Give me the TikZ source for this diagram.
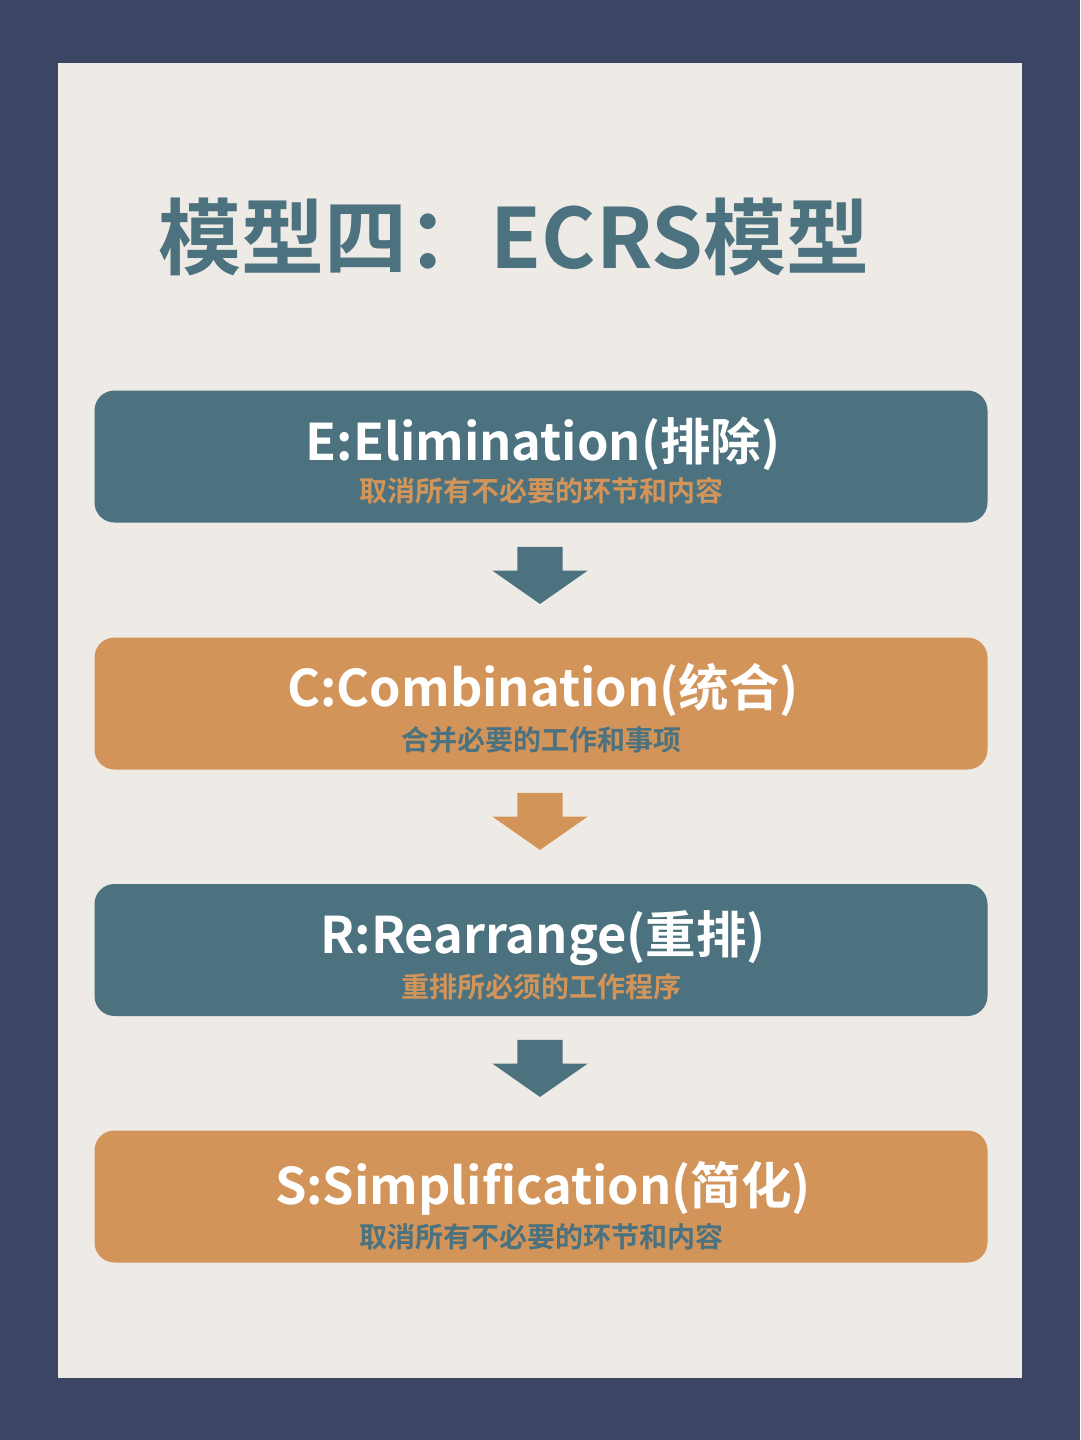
\documentclass[tikz,border=0pt]{standalone}
\usepackage{fontspec}
\setmainfont{Noto Sans CJK SC}[BoldFont={Noto Sans CJK SC Bold}]
\usetikzlibrary{shapes.arrows}
\definecolor{ecrsnavy}{HTML}{3D4564}
\definecolor{ecrspaper}{HTML}{EEEAE5}
\definecolor{ecrsteal}{HTML}{4B727E}
\definecolor{ecrsorange}{HTML}{D3945A}
\begin{document}
\begin{tikzpicture}
[
    x=1pt, y=-1pt,
    stepbox/.style={rounded corners=20pt, minimum width=893pt, minimum height=132pt, inner sep=0pt},
    headtext/.style={anchor=base, text=white, font=\bfseries\fontsize{50.5}{54}\selectfont},
    subtext/.style={anchor=base, font=\bfseries\fontsize{28}{31}\selectfont},
    downarrow/.style={shape=single arrow, rotate=-90, minimum height=57pt, minimum width=0pt,
        inner xsep=0pt, inner ysep=22.5pt, single arrow head extend=25pt, single arrow tip angle=110},
]
% background and panel
\fill[ecrsnavy] (0,0) rectangle (1080,1440);
\fill[ecrspaper] (58,63) rectangle (1022,1378);

% title
\node[text=ecrsteal, font=\bfseries\fontsize{83}{88}\selectfont] (title) at (514,237) {模型四：ECRS模型};

% E
\node[stepbox, fill=ecrsteal] (E) at (541,456.5) {};
\node[headtext] (Ehead) at (543,460) {E:Elimination(排除)};
\node[subtext, text=ecrsorange] (Esub) at (541,501) {取消所有不必要的环节和内容};

% C
\node[stepbox, fill=ecrsorange] (C) at (541,703.5) {};
\node[headtext] (Chead) at (543,706) {C:Combination(统合)};
\node[subtext, text=ecrsteal] (Csub) at (541,750) {合并必要的工作和事项};

% R
\node[stepbox, fill=ecrsteal] (R) at (541,950) {};
\node[headtext] (Rhead) at (543,953) {R:Rearrange(重排)};
\node[subtext, text=ecrsorange] (Rsub) at (541,997) {重排所必须的工作程序};

% S
\node[stepbox, fill=ecrsorange] (S) at (541,1196.5) {};
\node[headtext] (Shead) at (543,1204) {S:Simplification(简化)};
\node[subtext, text=ecrsteal] (Ssub) at (541,1247) {取消所有不必要的环节和内容};

% arrows between the steps
\node[downarrow, fill=ecrsteal] (EC) at (540,567.5) {};
\node[downarrow, fill=ecrsorange] (CR) at (540,813.5) {};
\node[downarrow, fill=ecrsteal] (RS) at (540,1060.5) {};
\end{tikzpicture}
\end{document}
